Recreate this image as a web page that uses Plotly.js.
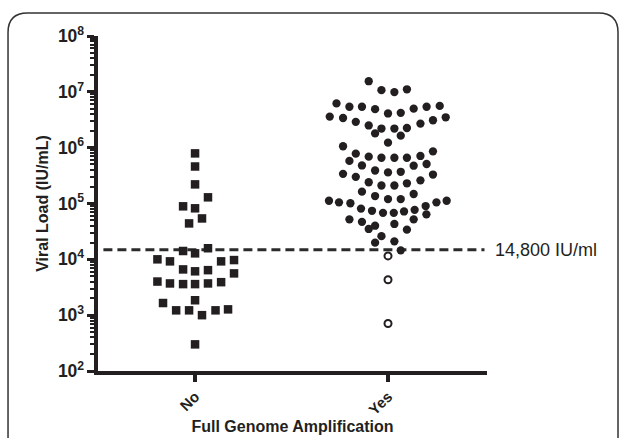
<!DOCTYPE html>
<html>
<head>
<meta charset="utf-8">
<script src="https://cdn.plot.ly/plotly-3.0.1.min.js"></script>
<style>
html,body{margin:0;padding:0;background:#fff;}
#chart{width:627px;height:438px;}
</style>
</head>
<body>
<div id="chart"></div>
<script>
// ---- data ----
const categories = ["No", "Yes"];
const threshold = 14800;
const thresholdLabel = "14,800 IU/ml";

// "No" group (squares)
const noValues = [790000, 460000, 220000, 129000, 89000, 82000, 54000, 44000,
  14100, 12800, 15800, 10000, 9200, 9200, 9700, 6600, 6100, 6400, 5600,
  4000, 3700, 3600, 3600, 3700, 3900, 1650, 1850, 1220, 1220, 1000, 1220, 1270, 300];
const noJitter = [0, 0, 0, 0.067, -0.062, 0, 0.036, -0.031,
  -0.062, 0, 0.067, -0.195, -0.130, 0.135, 0.202, -0.062, 0, 0.067, 0.202,
  -0.195, -0.130, -0.062, 0, 0.067, 0.135, -0.166, 0, -0.098, -0.031, 0.036, 0.106, 0.171, 0];

// "Yes" group, above threshold (filled circles)
const yesValues = [15500000, 10700000, 9900000, 11100000,
  6200000, 5400000, 5400000, 4900000, 4100000, 4200000, 5000000, 5400000, 5600000,
  3600000, 3400000, 2900000, 2500000, 2200000, 2200000, 2250000, 2700000, 3100000, 3500000,
  1800000, 1640000, 1230000, 1060000, 860000,
  780000, 690000, 660000, 660000, 660000, 710000, 580000, 480000, 475000, 510000,
  340000, 300000, 390000, 360000, 370000, 260000, 330000,
  240000, 210000, 210000, 230000, 163000, 136000, 120000, 120000, 148000,
  112000, 105000, 101000, 105000, 112000,
  81000, 74000, 68000, 68000, 72000, 77000, 90000, 64000,
  52000, 47000, 40000, 35000, 43000, 52000, 34000, 26000, 21000, 19900, 14500];
const yesJitter = [-0.100, -0.034, 0.033, 0.098,
  -0.267, -0.200, -0.135, -0.067, 0, 0.066, 0.133, 0.200, 0.268,
  -0.302, -0.233, -0.167, -0.100, -0.034, 0.033, 0.098, 0.168, 0.233, 0.299,
  -0.067, 0.066, 0, -0.233, 0.233,
  -0.167, -0.100, -0.034, 0.033, 0.098, 0.168, -0.200, -0.135, 0.133, 0.200,
  -0.233, -0.167, -0.067, 0, 0.066, 0.168, 0.233,
  -0.100, -0.034, 0.033, 0.098, -0.135, -0.067, 0, 0.066, 0.133,
  -0.306, -0.254, -0.195, 0.251, 0.304,
  -0.140, -0.083, -0.026, 0.030, 0.083, 0.138, 0.195, 0.199,
  -0.200, -0.135, -0.067, -0.100, 0.033, 0.133, 0.098, -0.034, 0.033, -0.067, 0.066];

// "Yes" group, below threshold (open circles)
const yesLowValues = [11500, 4300, 710];
const yesLowJitter = [0, 0, 0];

// ---- build ----
const ink = "#231f20";
const FONT = "'Liberation Sans', Arial, Helvetica, sans-serif";
const xOf = (idx, jit) => jit.map(j => idx + j);

const traces = [
  {
    x: [-0.475, 1.5], y: [threshold, threshold],
    mode: "lines", hoverinfo: "skip",
    line: {color: "#2b2b2b", width: 3, dash: "9px,5px"}
  },
  {
    x: xOf(0, noJitter), y: noValues, mode: "markers",
    marker: {symbol: "square", size: 8.5, color: ink, line: {width: 0}}
  },
  {
    x: xOf(1, yesJitter), y: yesValues, mode: "markers",
    marker: {symbol: "circle", size: 8.3, color: ink, line: {width: 0}}
  },
  {
    x: xOf(1, yesLowJitter), y: yesLowValues, mode: "markers",
    marker: {symbol: "circle-open", size: 7, color: ink, line: {width: 2, color: ink}}
  }
];

// rounded frame (paper coordinates relative to plot area)
const L = -0.2313, R = 1.3368, T = 1.0687, B = -0.24, rx = 0.05, ry = 0.058;
const framePath = `M ${L+rx},${T} L ${R-rx},${T} Q ${R},${T} ${R},${T-ry} L ${R},${B} L ${L},${B} L ${L},${T-ry} Q ${L},${T} ${L+rx},${T} Z`;

const layout = {
  width: 627, height: 438,
  margin: {l: 98, r: 140, t: 36, b: 67},
  paper_bgcolor: "#fff", plot_bgcolor: "#fff",
  showlegend: false,
  font: {family: FONT, color: ink},
  xaxis: {
    range: [-0.503, 1.513],
    tickvals: [0, 1], ticktext: categories,
    tickangle: -45,
    ticks: "outside", ticklen: 7, tickwidth: 3.5, tickcolor: ink,
    showline: true, linewidth: 4, linecolor: ink,
    showgrid: false, zeroline: false,
    tickfont: {family: FONT, size: 15, weight: "bold", color: ink},
    title: {text: "Full Genome Amplification", font: {family: FONT, size: 16, weight: "bold", color: ink}, standoff: 2}
  },
  yaxis: {
    type: "log", range: [2, 8], dtick: 1,
    exponentformat: "power",
    ticks: "outside", ticklen: 7, tickwidth: 3, tickcolor: ink,
    minor: {dtick: "D1", ticks: "outside", ticklen: 4, tickwidth: 2, tickcolor: ink, showgrid: false},
    showline: true, linewidth: 4, linecolor: ink,
    showgrid: false, zeroline: false,
    tickfont: {family: FONT, size: 14, weight: "bold", color: ink},
    title: {text: "Viral Load (IU/mL)", font: {family: FONT, size: 16, weight: "bold", color: ink}, standoff: 6}
  },
  shapes: [
    {type: "path", xref: "paper", yref: "paper", path: framePath,
     line: {color: "#333", width: 1.5}, fillcolor: "rgba(0,0,0,0)"}
  ],
  annotations: [
    {xref: "paper", yref: "y", x: 1.015, y: Math.log10(threshold),
     xanchor: "left", yanchor: "middle", showarrow: false,
     text: thresholdLabel, font: {family: FONT, size: 18, color: ink}}
  ]
};

Plotly.newPlot("chart", traces, layout, {displayModeBar: false, staticPlot: true});
</script>
</body>
</html>
